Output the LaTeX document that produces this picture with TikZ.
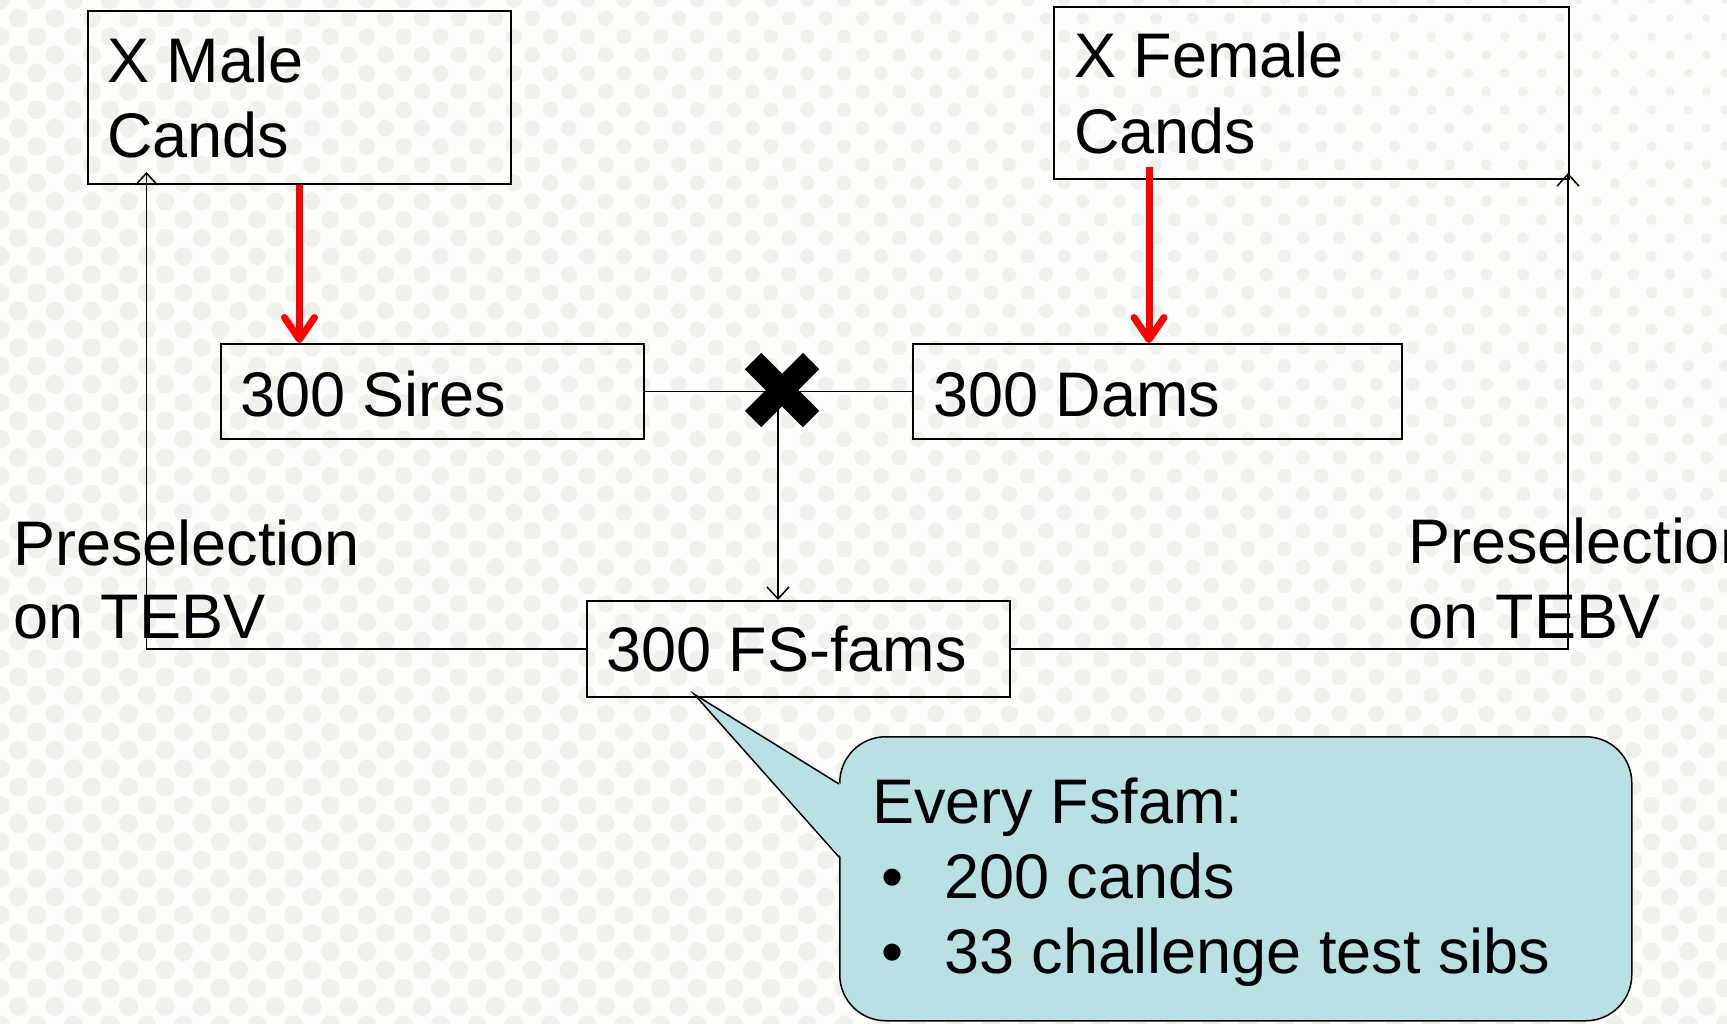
\documentclass[tikz,border=0pt]{standalone}
\usepackage{fontspec}
\setmainfont{Liberation Sans}
\usetikzlibrary{arrows.meta}
\definecolor{bgbase}{HTML}{FDFDFB}
\definecolor{bgdot}{HTML}{F1F1EC}
\definecolor{notefill}{RGB}{185,224,227}
\definecolor{redarrow}{RGB}{255,0,0}
\begin{document}
\begin{tikzpicture}[x=0.5pt,y=-0.5pt,
  font=\fontsize{31.5}{37}\selectfont,
  box/.style={draw=black, line width=1pt, inner sep=0pt, anchor=north west},
  lbl/.style={inner sep=0pt, anchor=base west},
  link/.style={draw=black, line width=0.75pt},
  fb/.style={link, -{Straight Barb[length=6pt,width=11pt,line width=0.75pt]}},
  redlink/.style={draw=redarrow, line width=3.5pt,
    -{Straight Barb[length=11pt,width=15pt,line cap=round,line join=round]}},
  note/.style={draw=black, line width=0.75pt, fill=notefill, rounded corners=23pt,
    inner sep=0pt, anchor=north west, minimum width=396pt, minimum height=142pt},
]
\useasboundingbox (0,0) rectangle (1727,1023);
\clip (0,0) rectangle (1727,1023);

% dotted backdrop
\fill[bgbase] (0,0) rectangle (1727,1023);
\foreach \j in {0,...,56} {
  \foreach \i in {0,...,47} {
    \pgfmathsetmacro\cx{\i*36.7 + mod(\j,2)*18.35}
    \pgfmathsetmacro\cy{\j*18.3}
    \pgfmathsetmacro\rr{0.5*(9.5-5.5*(\cx/1727)*(1-\cy/1023))}
    \fill[bgdot] (\cx,\cy) circle[radius=\rr pt];
  }
}

% boxes
\node[box, minimum width=211.5pt, minimum height=86.5pt] (male) at (87,10) {};
\node[box, minimum width=257.5pt, minimum height=86pt] (female) at (1053,6) {};
\node[box, minimum width=211.5pt, minimum height=47.5pt] (sires) at (220,343) {};
\node[box, minimum width=244.5pt, minimum height=47.5pt] (dams) at (912,343) {};
\node[box, minimum width=211.5pt, minimum height=48pt] (fs) at (586,600) {};

% box texts
\node[lbl] (maleA) at (107,82) {X Male};
\node[lbl] (maleB) at (107,157) {Cands};
\node[lbl] (femaleA) at (1074,77) {X Female};
\node[lbl] (femaleB) at (1074,153) {Cands};
\node[lbl] (siresT) at (240,416) {300 Sires};
\node[lbl] (damsT) at (933,416) {300 Dams};
\node[lbl] (fsT) at (606,671) {300 FS-fams};

% side labels
\node[lbl] (preLA) at (13,565) {Preselection};
\node[lbl] (preLB) at (13,638) {on TEBV};
\node[lbl] (preRA) at (1408,563) {Preselection};
\node[lbl] (preRB) at (1408,638) {on TEBV};

% mating line and cross
\coordinate (cross) at (782,390);
\coordinate (drop) at (778,390);
\draw[link] (sires.east) -- (dams.west);
\draw[fb] (drop) -- (drop |- fs.north);
\draw[line width=11.5pt] ([shift={(-29,-29)}]cross) -- ([shift={(29,29)}]cross);
\draw[line width=11.5pt] ([shift={(-29,29)}]cross) -- ([shift={(29,-29)}]cross);

% selection of parents
\coordinate (fdrop) at (1149,167);
\draw[redlink] (male.south) -- (male.south |- sires.north);
\draw[redlink] (fdrop) -- (fdrop |- dams.north);

% preselection feedback
\coordinate (mtip) at (146.5,172);
\coordinate (ftip) at (1568,173);
\draw[fb] (fs.west) -| (mtip);
\draw[fb] (fs.east) -| (ftip);

% callout
\coordinate (ptip) at (694,694);
\node[note] (info) at (839,736) {};
\fill[notefill] (ptip) -- (841,784) -- (841,857) -- cycle;
\draw[link] (839,784) -- (ptip) -- (839,857);
\node[lbl] (infoA) at (872,823) {Every Fsfam:};
\node[lbl] (dotA) at (881,898) {•};
\node[lbl] (infoB) at (944,898) {200 cands};
\node[lbl] (dotB) at (881,973) {•};
\node[lbl] (infoC) at (944,973) {33 challenge test sibs};
\end{tikzpicture}
\end{document}
